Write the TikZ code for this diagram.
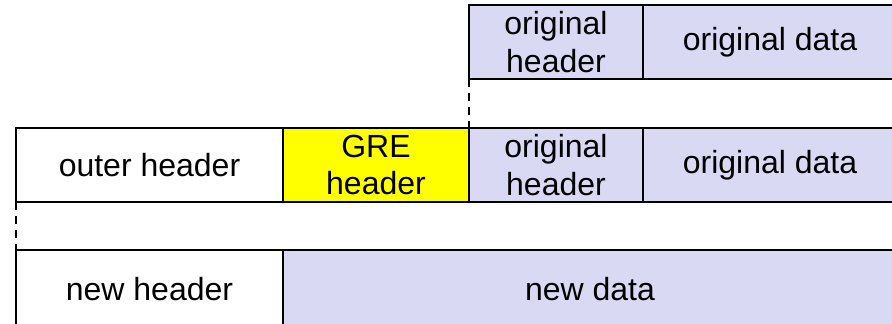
\documentclass[tikz,border=0pt]{standalone}
\usepackage{fontspec}
\setmainfont{Liberation Sans}
\definecolor{lav}{RGB}{217,217,244}
\definecolor{gre}{RGB}{255,255,0}
\begin{document}
\begin{tikzpicture}[x=1pt,y=-1pt,
  cell/.style={draw=black,line width=1.5pt,rectangle,inner sep=0pt,outer sep=0pt,
    align=center,font=\fontsize{32}{37.5}\selectfont},
  lavcell/.style={cell,fill=lav},
  link/.style={draw=black,line width=1.5pt,dash pattern=on 7.5pt off 6.5pt}]
\useasboundingbox (0,0) rectangle (892,324);
\clip (0,0) rectangle (892,324);
% row 1
\node[lavcell,minimum width=174pt,minimum height=74pt] (oh1) at (556,42) {original\\header};
\node[lavcell,minimum width=254pt,minimum height=74pt] (od1) at (770,42) {original data};
% row 2
\node[cell,fill=white,minimum width=267pt,minimum height=74pt] (outer) at (149.5,165) {outer header};
\node[cell,fill=gre,minimum width=186pt,minimum height=74pt] (greh) at (376,165) {GRE\\header};
\node[lavcell,minimum width=174pt,minimum height=74pt] (oh2) at (556,165) {original\\header};
\node[lavcell,minimum width=254pt,minimum height=74pt] (od2) at (770,165) {original data};
% row 3
\node[cell,fill=white,minimum width=267pt,minimum height=78pt] (nh) at (149.5,289) {new header};
\node[lavcell,minimum width=614pt,minimum height=78pt] (nd) at (590,289) {new data};
% dashed connectors
\draw[link] (oh1.south west) -- (oh2.north west);
\draw[link] (outer.south west) -- (nh.north west);
\end{tikzpicture}
\end{document}
